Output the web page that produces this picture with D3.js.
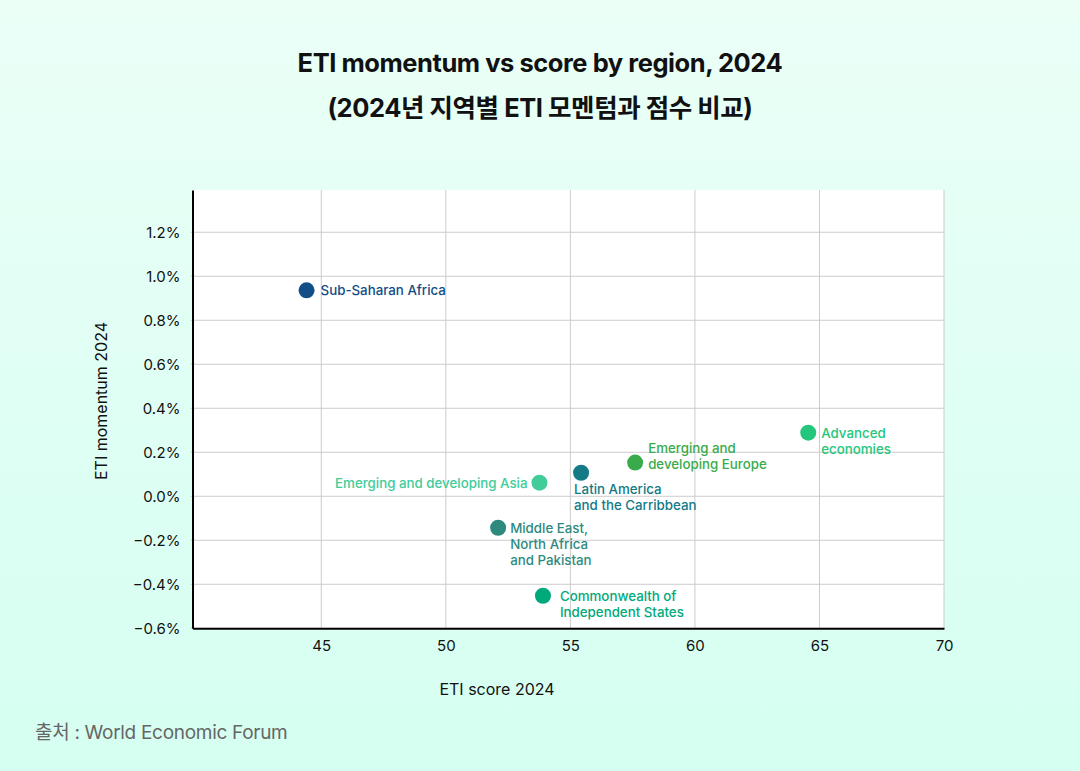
<!DOCTYPE html>
<html>
<head>
<meta charset="utf-8">
<script src="https://cdn.jsdelivr.net/npm/d3@7"></script>
<style>
  html, body { margin: 0; padding: 0; }
  body { width: 1080px; height: 771px; overflow: hidden; }
  svg { display: block; font-family: Inter, "Noto Sans CJK KR", "Noto Sans", sans-serif; }
</style>
</head>
<body>
<svg id="chart" width="1080" height="771"></svg>
<script>
// ---- Data ----
const regions = [
  "Sub-Saharan Africa",
  "Emerging and developing Asia",
  "Latin America and the Carribbean",
  "Emerging and developing Europe",
  "Middle East, North Africa and Pakistan",
  "Commonwealth of Independent States",
  "Advanced economies"
];
const etiScore = [44.41, 53.76, 55.43, 57.6, 52.1, 53.9, 64.55];
const etiMomentum = [0.936, 0.062, 0.107, 0.153, -0.143, -0.452, 0.289];
const xTicks = [45, 50, 55, 60, 65, 70];
const yTicks = [-0.6, -0.4, -0.2, 0.0, 0.2, 0.4, 0.6, 0.8, 1.0, 1.2];

// ---- Styling / label layout ----
const colors = ["#114d87", "#42cc9a", "#137a86", "#3aab4a", "#2e8a7f", "#00a97a", "#24c67c"];
const labelLines = [
  ["Sub-Saharan Africa"],
  ["Emerging and developing Asia"],
  ["Latin America", "and the Carribbean"],
  ["Emerging and", "developing Europe"],
  ["Middle East,", "North Africa", "and Pakistan"],
  ["Commonwealth of", "Independent States"],
  ["Advanced", "economies"]
];
const labelOffset = [
  {dx: 14, dy: 0, anchor: "start"},
  {dx: -12, dy: 0, anchor: "end"},
  {dx: -7, dy: 16, anchor: "start"},
  {dx: 13, dy: -15, anchor: "start"},
  {dx: 12, dy: 0, anchor: "start"},
  {dx: 17, dy: 0, anchor: "start"},
  {dx: 13, dy: 0, anchor: "start"}
];

const svg = d3.select("#chart");
const W = 1080, H = 771;

// background gradient
const defs = svg.append("defs");
const grad = defs.append("linearGradient").attr("id", "bg").attr("x1", 0).attr("y1", 0).attr("x2", 0).attr("y2", 1);
grad.append("stop").attr("offset", "0%").attr("stop-color", "#ebfff7");
grad.append("stop").attr("offset", "100%").attr("stop-color", "#d5fff1");
svg.append("rect").attr("width", W).attr("height", H).attr("fill", "url(#bg)");

const plot = {left: 192.5, right: 944, top: 190, bottom: 628.3};
const x = d3.scaleLinear().domain([39.83, 70]).range([plot.left, plot.right]);
const y = d3.scaleLinear().domain([-0.6, 1.392]).range([plot.bottom, plot.top]);

// plot background
svg.append("rect")
  .attr("x", plot.left).attr("y", plot.top)
  .attr("width", plot.right - plot.left).attr("height", plot.bottom - plot.top)
  .attr("fill", "#ffffff");

// grid
svg.append("g").selectAll("line").data(xTicks).join("line")
  .attr("x1", d => x(d)).attr("x2", d => x(d))
  .attr("y1", plot.top).attr("y2", plot.bottom)
  .attr("stroke", "#cccccc").attr("stroke-width", 1);
svg.append("g").selectAll("line").data(yTicks).join("line")
  .attr("x1", plot.left - 2).attr("x2", plot.right)
  .attr("y1", d => y(d)).attr("y2", d => y(d))
  .attr("stroke", "#cccccc").attr("stroke-width", 1);

// axes
const xAxis = d3.axisBottom(x).tickValues(xTicks).tickSize(0).tickPadding(12).tickFormat(d3.format("d"));
const gx = svg.append("g").attr("transform", `translate(0,${plot.bottom})`).call(xAxis);
gx.select(".domain").attr("stroke", "#000").attr("stroke-width", 2);
gx.selectAll("text").attr("font-size", 15).attr("fill", "#111").attr("font-family", "Inter, sans-serif");

const yAxis = d3.axisLeft(y).tickValues(yTicks).tickSize(0).tickPadding(12).tickFormat(d => d3.format(".1f")(d) + "%");
const gy = svg.append("g").attr("transform", `translate(${plot.left},0)`).call(yAxis);
gy.select(".domain").attr("stroke", "#000").attr("stroke-width", 2);
gy.selectAll("text").attr("font-size", 15).attr("fill", "#111").attr("font-family", "Inter, sans-serif");

// axis titles
svg.append("text").attr("x", 497).attr("y", 695).attr("text-anchor", "middle")
  .attr("font-size", 16).attr("fill", "#111").text("ETI score 2024");
svg.append("text").attr("transform", "translate(107,401) rotate(-90)").attr("text-anchor", "middle")
  .attr("font-size", 16).attr("fill", "#111").text("ETI momentum 2024");

// points
const data = regions.map((r, i) => ({r, sx: etiScore[i], m: etiMomentum[i], c: colors[i], lines: labelLines[i], o: labelOffset[i]}));
svg.append("g").selectAll("circle").data(data).join("circle")
  .attr("cx", d => x(d.sx)).attr("cy", d => y(d.m)).attr("r", 8).attr("fill", d => d.c);

// labels
const lab = svg.append("g").selectAll("text").data(data).join("text")
  .attr("x", d => x(d.sx) + d.o.dx)
  .attr("y", d => y(d.m) + d.o.dy)
  .attr("text-anchor", d => d.o.anchor)
  .attr("dominant-baseline", "central")
  .attr("font-size", 13.3).attr("font-weight", 500)
  .attr("fill", d => d.c);
lab.each(function(d) {
  d3.select(this).selectAll("tspan").data(d.lines).join("tspan")
    .attr("x", x(d.sx) + d.o.dx)
    .attr("dy", (t, i) => i === 0 ? 0 : 16.3)
    .text(t => t);
});

// title
svg.append("text").attr("x", 540).attr("y", 72).attr("text-anchor", "middle")
  .attr("font-size", 25.5).attr("font-weight", 700).attr("fill", "#111").attr("letter-spacing", -0.45)
  .text("ETI momentum vs score by region, 2024");
svg.append("text").attr("x", 540).attr("y", 117).attr("text-anchor", "middle")
  .attr("font-size", 25.5).attr("font-weight", 700).attr("fill", "#111").attr("letter-spacing", -0.45)
  .text("(2024년 지역별 ETI 모멘텀과 점수 비교)");

// source
svg.append("text").attr("x", 35).attr("y", 739).attr("font-size", 19).attr("fill", "#666")
  .attr("letter-spacing", -0.3)
  .text("출처 : World Economic Forum");
</script>
</body>
</html>
